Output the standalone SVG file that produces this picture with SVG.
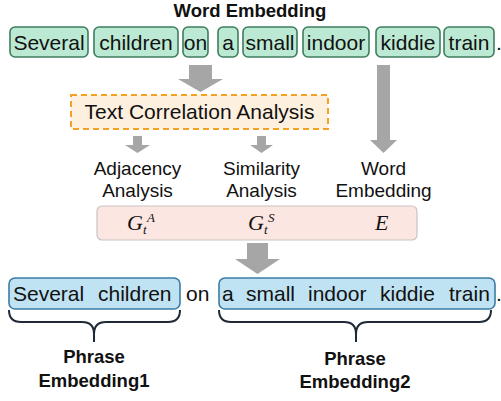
<svg xmlns="http://www.w3.org/2000/svg" width="501" height="401" viewBox="0 0 501 401">
<style>
.t{font-family:"Liberation Sans",Arial,sans-serif;fill:#111}
.w{font-size:21px;text-anchor:middle}
.b{font-weight:bold;font-size:18.5px;text-anchor:middle}
.l{font-size:19px;text-anchor:middle}
.g{fill:#BCE9D3;stroke:#3F7D5F;stroke-width:1.6}
.p{fill:#BFE3F3;stroke:#3B7CA6;stroke-width:1.6}
.ar{fill:#A6A6A6}
.m{font-family:"Liberation Serif","Times New Roman",serif;font-style:italic;fill:#111;font-size:22px}
.s{font-size:13px}
.br{fill:none;stroke:#1F2937;stroke-width:2}
</style>
<rect width="501" height="401" fill="#fff"/>
<g id="title"><text class="t b" x="250" y="17">Word Embedding</text></g>
<g id="words">
<rect class="g" x="10" y="27" width="78" height="30" rx="5"/><text class="t w" x="49" y="50">Several</text>
<rect class="g" x="94" y="27" width="84" height="30" rx="5"/><text class="t w" x="136" y="50">children</text>
<rect class="g" x="183" y="27" width="25" height="30" rx="5"/><text class="t w" x="195.5" y="50">on</text>
<rect class="g" x="218" y="27" width="20" height="30" rx="5"/><text class="t w" x="228" y="50">a</text>
<rect class="g" x="243" y="27" width="54" height="30" rx="5"/><text class="t w" x="270" y="50">small</text>
<rect class="g" x="303" y="27" width="66" height="30" rx="5"/><text class="t w" x="336" y="50">indoor</text>
<rect class="g" x="376" y="27" width="64" height="30" rx="5"/><text class="t w" x="408" y="50">kiddie</text>
<rect class="g" x="444" y="27" width="50" height="30" rx="5"/><text class="t w" x="469" y="50">train</text>
<text class="t" x="496" y="50" font-size="21">.</text>
</g>
<g id="connectors">
<polygon class="ar" points="189,65 212,65 212,79 223,79 200.5,92 178,79 189,79"/>
<polygon class="ar" points="377,65 390,65 390,140 397,140 383.5,153 370,140 377,140"/>
<polygon class="ar" points="133,136 142,136 142,145 150,145 137.5,153 125,145 133,145"/>
<polygon class="ar" points="257,136 266,136 266,145 273,145 261.5,153 250,145 257,145"/>
<polygon class="ar" points="247,243 268,243 268,259 280,259 257.5,274 235,259 247,259"/>
</g>
<g id="tca">
<rect x="71" y="95" width="257" height="34" fill="#FDF0DF" stroke="#F5A123" stroke-width="2" stroke-dasharray="6,4"/>
<text class="t w" x="199.5" y="119">Text Correlation Analysis</text>
</g>
<g id="labels">
<text class="t l" x="137.5" y="175">Adjacency</text><text class="t l" x="137.5" y="197">Analysis</text>
<text class="t l" x="261.5" y="175">Similarity</text><text class="t l" x="261.5" y="197">Analysis</text>
<text class="t l" x="383.5" y="175">Word</text><text class="t l" x="383.5" y="197">Embedding</text>
</g>
<g id="features">
<rect x="97" y="206" width="320" height="34" rx="5" fill="#FBE6E1" stroke="#C9C3C2" stroke-width="1.2"/>
<text class="m" x="127" y="230">G<tspan class="s" dy="4">t</tspan><tspan class="s" dx="0.5" dy="-12">A</tspan></text>
<text class="m" x="248" y="230">G<tspan class="s" dy="4">t</tspan><tspan class="s" dx="0.5" dy="-12">S</tspan></text>
<text class="m" x="375" y="230">E</text>
</g>
<g id="phrase1">
<rect class="p" x="9" y="278" width="171" height="31" rx="6"/>
<text class="t" x="13" y="301" font-size="21">Several</text><text class="t" x="98" y="301" font-size="21">children</text>
</g>
<g id="on"><text class="t" x="186" y="301" font-size="21">on</text></g>
<g id="phrase2">
<rect class="p" x="219" y="278" width="276" height="31" rx="6"/>
<text class="t" x="222" y="301" font-size="21">a</text>
<text class="t" x="246" y="301" font-size="21">small</text>
<text class="t" x="308" y="301" font-size="21">indoor</text>
<text class="t" x="380" y="301" font-size="21">kiddie</text>
<text class="t" x="449" y="301" font-size="21">train</text>
<text class="t" x="496" y="301" font-size="21">.</text>
</g>
<g id="braces">
<path class="br" d="M9,310 Q9,322 21,322 L82,322 Q94,322 94,334 L94,342 M94,334 Q94,322 106,322 L168,322 Q180,322 180,310"/>
<path class="br" d="M219,310 Q219,322 231,322 L344,322 Q356,322 356,334 L356,342 M356,334 Q356,322 368,322 L479,322 Q491,322 491,310"/>
</g>
<g id="pe1"><text class="t b" x="94" y="363">Phrase</text><text class="t b" x="94" y="387">Embedding1</text></g>
<g id="pe2"><text class="t b" x="355" y="365">Phrase</text><text class="t b" x="355" y="388">Embedding2</text></g>
</svg>
